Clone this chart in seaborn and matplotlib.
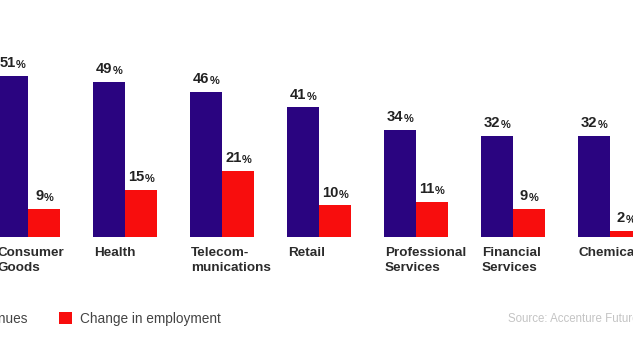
import numpy as np
import pandas as pd
import matplotlib
matplotlib.use("Agg")
import matplotlib.pyplot as plt
from matplotlib.transforms import ScaledTranslation
import seaborn as sns

categories = ["Consumer\nGoods", "Health", "Telecom-\nmunications", "Retail",
              "Professional\nServices", "Financial\nServices", "Chemicals"]
revenues = [51, 49, 46, 41, 34, 32, 32]
employment = [9, 15, 21, 10, 11, 9, 2]
series_names = ["Change in revenues", "Change in employment"]
source_text = "Source: Accenture Future Systems Research"

PURPLE = "#2a0480"
RED = "#f80d0d"

sns.set_theme(style="white")
plt.rcParams["font.family"] = ["Liberation Sans", "DejaVu Sans"]

df = pd.DataFrame({
    "category": categories * 2,
    "metric": [series_names[0]] * len(categories) + [series_names[1]] * len(categories),
    "value": revenues + employment,
})

fig = plt.figure(figsize=(6.33, 3.5), dpi=100)
ax = fig.add_axes([0, 113 / 350, 1, 237 / 350])
sns.barplot(data=df, x="category", y="value", hue="metric", palette=[PURPLE, RED],
            width=0.66, saturation=1, errorbar=None, linewidth=0, ax=ax)
ax.set_xlabel("")
ax.set_ylabel("")
ax.set_yticks([])
ax.set_xticks(range(len(categories)), labels=categories)
ax.set_xlim(-0.292, 6.24)
ax.set_ylim(0, 75)
sns.despine(ax=ax, left=True, bottom=True)

# category labels left-aligned with the first bar of each group
first = ax.containers[0][0]
x_left_px = ax.transData.transform((first.get_x(), 0))[0]
x_ctr_px = ax.transData.transform((0, 0))[0]
shift = ScaledTranslation((x_left_px - x_ctr_px + 1) / fig.dpi, 0, fig.dpi_scale_trans)
ax.tick_params(axis="x", length=0, pad=7.5, labelsize=9.7, labelcolor="#2b2b2b")
for lbl in ax.get_xticklabels():
    lbl.set_ha("left")
    lbl.set_fontweight("bold")
    lbl.set_linespacing(1.3)
    lbl.set_transform(lbl.get_transform() + shift)

# value labels
for cont in ax.containers:
    for bar in cont:
        h = bar.get_height()
        xc = bar.get_x() + bar.get_width() / 2
        t = ax.annotate(f"{int(round(h))}", (xc, h), xytext=(-3.5, 6.3),
                        textcoords="offset points", ha="center", va="baseline",
                        fontsize=10.6, fontweight="bold", color="#222222")
        ax.annotate("%", xy=(1, 0), xycoords=t, xytext=(0.3, 0),
                    textcoords="offset points", ha="left", va="bottom",
                    fontsize=8, fontweight="bold", color="#222222")

sns.move_legend(ax, loc="center left", bbox_to_anchor=(-117 / 633, 31 / 350),
                bbox_transform=fig.transFigure, ncol=2, title=None, frameon=False,
                borderpad=0, borderaxespad=0, handlelength=1.0, handleheight=1.0,
                handletextpad=0.6, columnspacing=2.3, fontsize=9.8, labelcolor="#444444")

fig.text(508 / 633, 31 / 350, source_text, ha="left", va="center",
         fontsize=8.3, color="#c4c4c4")

fig.savefig("out.png", dpi=100)
